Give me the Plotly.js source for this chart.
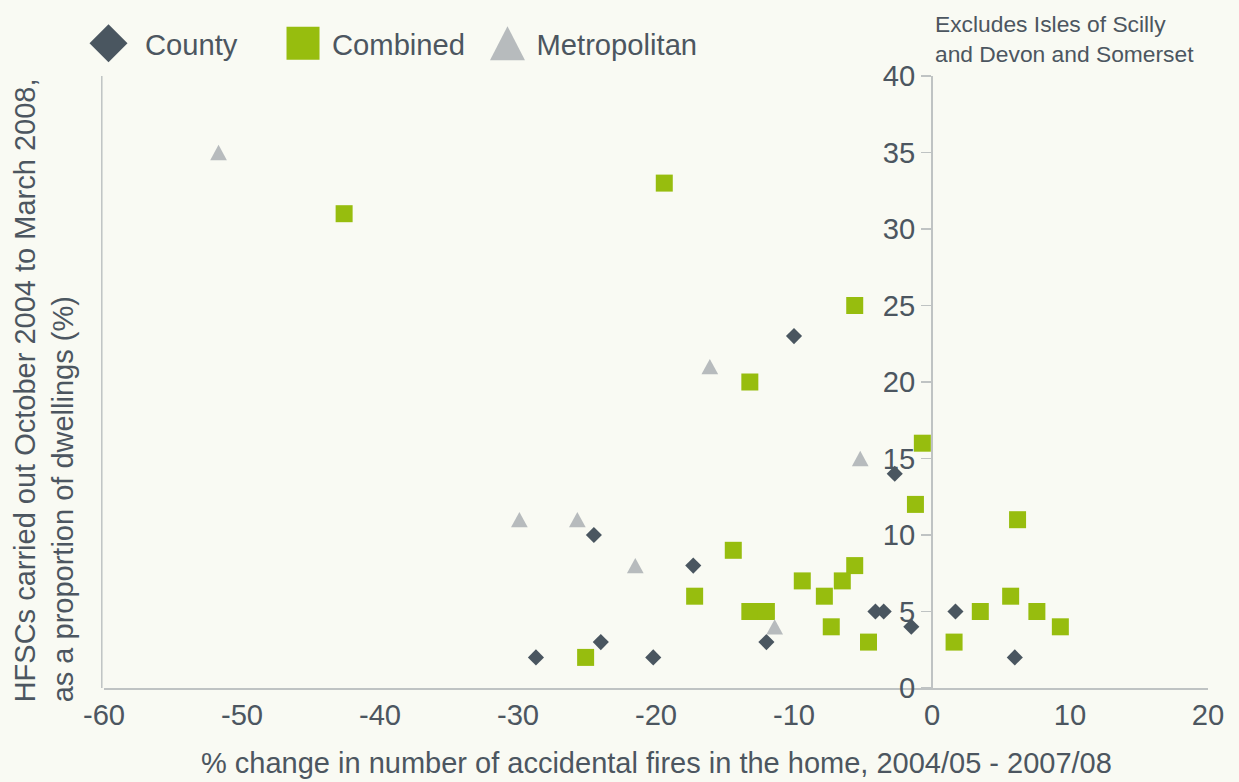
<!DOCTYPE html>
<html>
<head>
<meta charset="utf-8">
<script src="https://cdn.plot.ly/plotly-3.0.1.min.js"></script>
<style>
html,body{margin:0;padding:0;background:#f9faf3;}
#chart{width:1239px;height:782px;}
</style>
</head>
<body>
<div id="chart"></div>
<script>
// County fire and rescue services
const countyX = [-28.7, -24.5, -24.0, -20.2, -17.3, -10.0, -12.0, -4.1, -3.5, -2.7, -1.5, 1.7, 6.0];
const countyY = [2, 10, 3, 2, 8, 23, 3, 5, 5, 14, 4, 5, 2];

// Combined fire and rescue services
const combinedX = [-42.6, -19.4, -5.6, -13.2, -0.7, -1.2, -14.4, 6.2, -5.6, -9.4, -6.5, -7.8, -17.2, -13.2, -12.0, -7.3, -4.6, -25.1, 1.6, 3.5, 5.7, 7.6, 9.3];
const combinedY = [31, 33, 25, 20, 16, 12, 9, 11, 8, 7, 7, 6, 6, 5, 5, 4, 3, 2, 3, 5, 6, 5, 4];

// Metropolitan fire and rescue services
const metroX = [-51.7, -29.9, -25.7, -21.5, -16.1, -5.2, -11.4];
const metroY = [35, 11, 11, 8, 21, 15, 4];

const xTicks = [-60, -50, -40, -30, -20, -10, 0, 10, 20];
const yTicks = [0, 5, 10, 15, 20, 25, 30, 35, 40];

const textColor = '#4c5660';
const lineColor = '#bfc3c3';
const font = 'Liberation Sans, Arial, sans-serif';
const fs = 29.2;

const traces = [
  {x: countyX, y: countyY, name: 'County', type: 'scatter', mode: 'markers', legend: 'legend',
   marker: {symbol: 'diamond', size: 12.4, color: '#4a5660', line: {width: 0}}},
  {x: combinedX, y: combinedY, name: 'Combined', type: 'scatter', mode: 'markers', legend: 'legend2',
   marker: {symbol: 'square', size: 17, color: '#97bd0e', line: {width: 0}}},
  {x: metroX, y: metroY, name: 'Metropolitan', type: 'scatter', mode: 'markers', legend: 'legend3',
   marker: {symbol: 'triangle-up', size: 15, color: '#b7bbbd', line: {width: 0}}}
];

function leg(x, w) {
  return {orientation: 'h', x: x, y: 1.095, xanchor: 'left', yanchor: 'top',
          font: {size: fs, color: textColor}, bgcolor: 'rgba(0,0,0,0)', itemwidth: w};
}

const layout = {
  width: 1239, height: 782,
  paper_bgcolor: '#f9faf3', plot_bgcolor: '#f9faf3',
  margin: {l: 104, r: 31, t: 76, b: 94, autoexpand: false},
  font: {family: font, color: textColor, size: fs},
  showlegend: true,
  legend: leg(-0.029, 63),
  legend2: leg(0.154, 48),
  legend3: leg(0.3392, 48),
  xaxis: {range: [-60, 20], tickvals: xTicks, ticktext: xTicks.map(String),
          showgrid: false, zeroline: false, showline: true, linecolor: lineColor, linewidth: 1.5,
          ticks: '', tickfont: {size: fs, color: textColor}, fixedrange: true},
  yaxis: {range: [0, 40], tickvals: yTicks, ticktext: yTicks.map(String),
          anchor: 'free', position: 0.75, side: 'left',
          showgrid: false, zeroline: false, showline: true, linecolor: lineColor, linewidth: 2,
          ticks: 'outside', ticklen: 10, tickcolor: lineColor, tickwidth: 1.5,
          tickfont: {size: fs, color: textColor}, fixedrange: true},
  shapes: [
    {type: 'line', xref: 'paper', yref: 'paper', x0: -0.002, x1: -0.002, y0: 0, y1: 1,
     line: {color: lineColor, width: 1.5}}
  ],
  annotations: [
    {text: '% change in number of accidental fires in the home, 2004/05 - 2007/08',
     xref: 'paper', yref: 'paper', x: 0.5, y: -0.123, xanchor: 'center', yanchor: 'middle',
     showarrow: false, font: {size: 29, color: textColor}},
    {text: 'HFSCs carried out October 2004 to March 2008,<br>as a proportion of dwellings (%)',
     xref: 'paper', yref: 'paper', x: -0.054, y: 0.487, xanchor: 'center', yanchor: 'middle',
     textangle: -90, align: 'left', showarrow: false, font: {size: 29, color: textColor}},
    {text: 'Excludes Isles of Scilly<br>and Devon and Somerset',
     xref: 'paper', yref: 'paper', x: 0.751, y: 1.11, xanchor: 'left', yanchor: 'top',
     align: 'left', showarrow: false, font: {size: 22.8, color: textColor}}
  ]
};

// classify a Plotly marker path by its outline
function shapeOf(d) {
  if (!d) return '';
  const nL = d.split('L').length - 1;
  if (d.indexOf('V') >= 0) return 'square';
  if (nL === 3) return 'diamond';
  if (nL === 1 && d.indexOf('H') >= 0) return 'triangle';
  return '';
}

function resize(path, w, h) {
  const t = path.getAttribute('transform') || '';
  if (t.indexOf('scale(') >= 0) return;
  const bb = path.getBBox();
  if (!bb.width || !bb.height) return;
  const sx = w / bb.width, sy = h / bb.height;
  const cx = bb.x + bb.width / 2, cy = bb.y + bb.height / 2;
  path.setAttribute('transform', t + ' scale(' + sx + ',' + sy + ') translate(' + (-cx) + ',' + (-cy) + ')');
}

const gd = document.getElementById('chart');
function restyleGlyphs() {
  try {
    // large legend glyphs, as in the reference
    const legendSizes = {diamond: [38, 38], square: [33, 33], triangle: [35, 34]};
    gd.querySelectorAll('.legendpoints path').forEach(function (p) {
      const s = legendSizes[shapeOf(p.getAttribute('d'))];
      if (s) resize(p, s[0], s[1]);
    });
    // the reference's triangles are taller than Plotly's triangle-up
    gd.querySelectorAll('.scatterlayer path.point').forEach(function (p) {
      if (shapeOf(p.getAttribute('d')) === 'triangle') resize(p, 16.7, 15.3);
    });
  } catch (e) { /* keep default glyphs */ }
}

Plotly.newPlot(gd, traces, layout, {displayModeBar: false, staticPlot: true}).then(function () {
  restyleGlyphs();
  gd.on('plotly_afterplot', restyleGlyphs);
  requestAnimationFrame(restyleGlyphs);
  [50, 200, 600, 1200].forEach(function (ms) { setTimeout(restyleGlyphs, ms); });
});
</script>
</body>
</html>
